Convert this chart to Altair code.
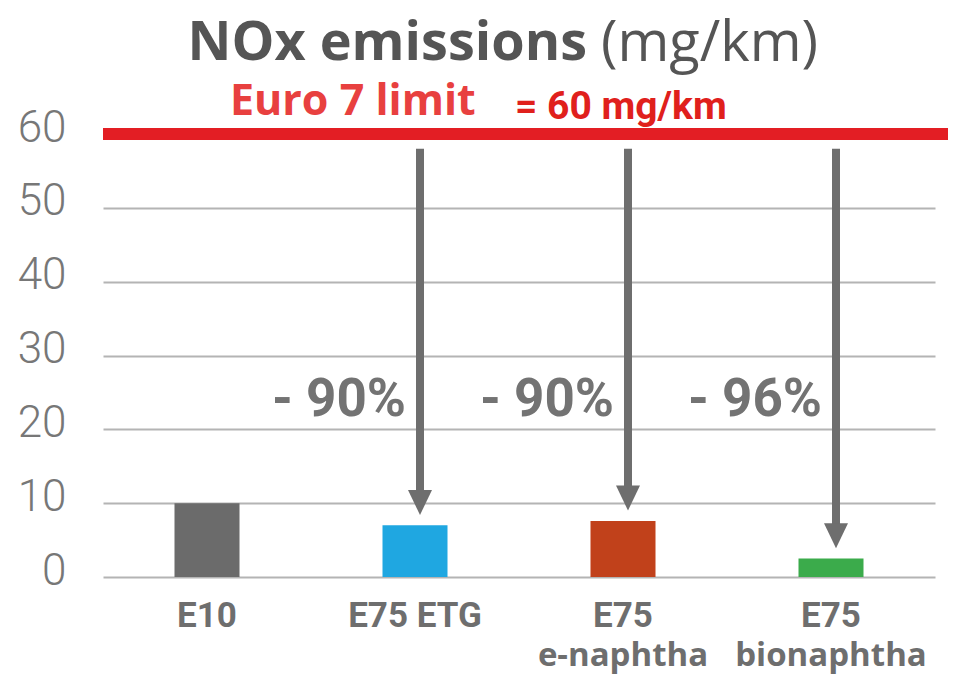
import altair as alt
import pandas as pd

# Fuels and measured NOx (mg/km)
categories = ["E10", "E75 ETG", "E75 e-naphtha", "E75 bionaphtha"]
label_line1 = ["E10", "E75 ETG", "E75", "E75"]
label_line2 = ["", "", "e-naphtha", "bionaphtha"]
nox = [10.0, 7.0, 7.6, 2.5]
bar_colors = ["#6b6b6b", "#1fa7e1", "#c1411b", "#3bab4b"]

# Reductions versus the Euro 7 limit
arrow_fuels = ["E75 ETG", "E75 e-naphtha", "E75 bionaphtha"]
reductions = ["- 90%", "- 90%", "- 96%"]

euro7_limit = 60
y_ticks = [0, 10, 20, 30, 40, 50, 60]

W, H = 832, 443
GREY = "#6e6e6e"
NARROW = "Roboto"
HUMANIST = "Open Sans"

bars_df = pd.DataFrame({
    "fuel": categories,
    "nox": nox,
    "line1": label_line1,
    "line2": label_line2,
})

nox_by_fuel = dict(zip(categories, nox))
arrows_df = pd.DataFrame({
    "fuel": arrow_fuels,
    "pct": reductions,
    "tip": [nox_by_fuel[f] + 1.4 for f in arrow_fuels],
})
arrows_df["shaft_top"] = euro7_limit - 2
arrows_df["shaft_end"] = arrows_df["tip"] + 2
arrows_df["label_y"] = 24.0

limit_df = pd.DataFrame({"limit": [euro7_limit]})

x_enc = alt.X(
    "fuel:N",
    sort=categories,
    scale=alt.Scale(domain=categories, paddingInner=0, paddingOuter=0),
    axis=None,
)
y_scale = alt.Scale(domain=[0, euro7_limit], nice=False)

bars = alt.Chart(bars_df).mark_bar(size=65).encode(
    x=x_enc,
    y=alt.Y(
        "nox:Q",
        scale=y_scale,
        axis=alt.Axis(
            values=y_ticks,
            grid=True,
            gridColor="#b4b4b4",
            gridWidth=2,
            domain=False,
            ticks=False,
            labelFont=NARROW,
            labelFontWeight=300,
            labelFontSize=44,
            labelColor="#777777",
            labelPadding=37,
            labelOffset=-6,
            title=None,
        ),
    ),
    color=alt.Color(
        "fuel:N",
        scale=alt.Scale(domain=categories, range=bar_colors),
        legend=None,
    ),
)

limit_rule = alt.Chart(limit_df).mark_rule(color="#e31e24", strokeWidth=12).encode(
    y=alt.Y("limit:Q", scale=y_scale),
    x=alt.value(0),
    x2=alt.value(845),
)

shafts = alt.Chart(arrows_df).mark_rule(color=GREY, strokeWidth=8, xOffset=5).encode(
    x=x_enc,
    y=alt.Y("shaft_top:Q", scale=y_scale),
    y2="shaft_end:Q",
)

heads = alt.Chart(arrows_df).mark_point(
    shape="M-1,-2.08L1,-2.08L0,0Z",
    size=576,
    filled=True,
    color=GREY,
    opacity=1,
    xOffset=5,
).encode(
    x=x_enc,
    y=alt.Y("tip:Q", scale=y_scale),
)

pct_labels = alt.Chart(arrows_df).mark_text(
    font=NARROW,
    fontWeight="bold",
    fontSize=53,
    color="#737373",
    align="right",
    baseline="middle",
    dx=-9,
).encode(
    x=x_enc,
    y=alt.Y("label_y:Q", scale=y_scale),
    text="pct:N",
)

fuel_line1 = alt.Chart(bars_df).mark_text(
    font=NARROW,
    fontWeight="bold",
    fontSize=35,
    color=GREY,
    baseline="alphabetic",
).encode(x=x_enc, y=alt.value(H + 50), text="line1:N")

fuel_line2 = alt.Chart(bars_df).mark_text(
    font=HUMANIST,
    fontWeight="bold",
    fontSize=33,
    color=GREY,
    baseline="alphabetic",
).encode(x=x_enc, y=alt.value(H + 89), text="line2:N")

title_bold = alt.Chart(pd.DataFrame({"t": ["NOx emissions"]})).mark_text(
    font=HUMANIST, fontWeight="bold", fontSize=54, color="#555555",
    align="right", baseline="alphabetic",
).encode(x=alt.value(484), y=alt.value(-74), text="t:N")

title_unit = alt.Chart(pd.DataFrame({"t": ["(mg/km)"]})).mark_text(
    font=HUMANIST, fontWeight="normal", fontSize=56, color="#555555",
    align="left", baseline="alphabetic",
).encode(x=alt.value(498), y=alt.value(-73), text="t:N")

limit_name = alt.Chart(pd.DataFrame({"t": ["Euro 7 limit"]})).mark_text(
    font=HUMANIST, fontWeight="bold", fontSize=43, color="#e8403f",
    align="left", baseline="alphabetic",
).encode(x=alt.value(127), y=alt.value(-19), text="t:N")

limit_value = alt.Chart(pd.DataFrame({"t": [f"= {euro7_limit} mg/km"]})).mark_text(
    font=NARROW, fontWeight="bold", fontSize=39, color="#e0201c",
    align="left", baseline="alphabetic",
).encode(x=alt.value(412), y=alt.value(-15), text="t:N")

chart = alt.layer(
    bars, limit_rule, shafts, heads, pct_labels, fuel_line1, fuel_line2,
    title_bold, title_unit, limit_name, limit_value,
).properties(
    width=W,
    height=H,
    autosize=alt.AutoSizeParams(type="none"),
    padding={"left": 103, "top": 134, "right": 30, "bottom": 99},
    background="white",
).configure_view(stroke=None)

chart.save("out.html", embed_options={"renderer": "svg", "actions": False})
